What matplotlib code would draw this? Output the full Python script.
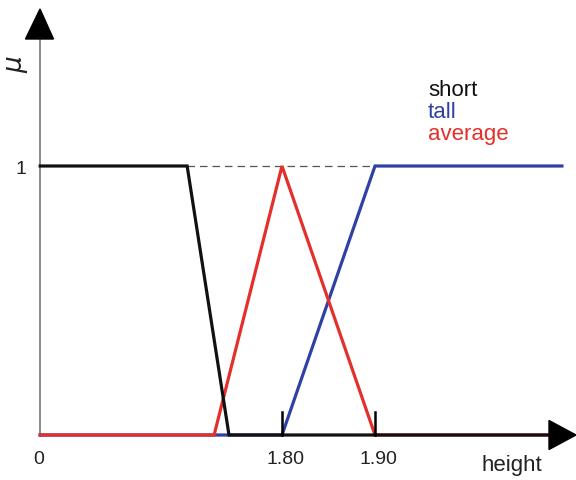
import matplotlib
matplotlib.use("Agg")
import matplotlib.pyplot as plt
from matplotlib.patches import Polygon

plt.rcParams['font.family'] = ['Liberation Sans', 'DejaVu Sans']

# Data (height in m, membership)
short_x = [1.54, 1.698, 1.743, 2.09]
short_y = [1, 1, 0, 0]
average_x = [1.54, 1.727, 1.80, 1.90, 2.09]
average_y = [0, 0, 1, 0, 0]
tall_x = [1.54, 1.80, 1.90, 2.101]
tall_y = [0, 0, 1, 1]
tick_vals = [1.80, 1.90]
tick_labels = ["1.80", "1.90"]
origin_x = 1.54

W, H = 576, 480
fig = plt.figure(figsize=(W / 100, H / 100), dpi=100)
ax = fig.add_axes([0, 0, 1, 1])
# pixel mapping: x=282 -> 1.80, 930 px per unit; y=435 -> 0, 269 px per unit
ax.set_xlim(1.80 - 282 / 930, 1.80 + (W - 282) / 930)
ax.set_ylim(-(H - 435) / 269, 435 / 269)
ax.axis('off')

def fx(px):
    return px / W

def fy(py):
    return 1 - py / H

txt = '#222222'

# y axis (gray) and arrow
ax.plot([fx(40), fx(40)], [fy(436), fy(36)], color='#777777', lw=1.2,
        transform=ax.transAxes, zorder=1)
ax.add_patch(Polygon([[fx(40), fy(9)], [fx(25.5), fy(39)], [fx(53.5), fy(39)]],
                     closed=True, color='black', transform=ax.transAxes, zorder=5))
# x axis arrow
ax.plot([fx(40), fx(552)], [fy(435), fy(435)], color='#222222', lw=1.5,
        transform=ax.transAxes, zorder=1)
ax.add_patch(Polygon([[fx(576), fy(435)], [fx(549), fy(420.5)], [fx(549), fy(449.5)]],
                     closed=True, color='black', transform=ax.transAxes, zorder=5))

# dashed line at mu = 1
ax.plot([short_x[1], tall_x[2]], [1, 1], color='#555555', lw=0.9,
        dashes=(6, 4), zorder=2)

blue = '#2f42a3'
red = '#e3302b'
ax.plot(tall_x, tall_y, color=blue, lw=2.3, zorder=3, solid_joinstyle='miter')
ax.plot(average_x, average_y, color=red, lw=2.3, zorder=4, solid_joinstyle='miter')
ax.plot(short_x, short_y, color='#111111', lw=2.3, zorder=4.5, solid_joinstyle='miter')

# ticks
for v, lab in zip(tick_vals, tick_labels):
    ax.plot([v, v], [0, 0.085], color='black', lw=1.8, zorder=6)
    ax.text(v + 0.004, -29 / 269, lab, ha='center', va='baseline', fontsize=14, color=txt)
ax.text(origin_x - 0.002, -29 / 269, "0", ha='center', va='baseline', fontsize=14, color=txt)
ax.text(fx(21), fy(174), "1", ha='center', va='baseline', fontsize=14,
        color=txt, transform=ax.transAxes)
ax.text(fx(512), fy(471), "height", ha='center', va='baseline', fontsize=16,
        color=txt, transform=ax.transAxes)
ax.text(fx(18), fy(64), r"$\mu$", ha='center', va='center', fontsize=19,
        rotation=90, color=txt, transform=ax.transAxes)

# legend-like labels
for lab, col, py in [("short", '#111111', 96), ("tall", blue, 118), ("average", red, 140)]:
    ax.text(fx(428), fy(py), lab, ha='left', va='baseline', fontsize=16,
            color=col, transform=ax.transAxes)

fig.savefig("out.png", dpi=100)
